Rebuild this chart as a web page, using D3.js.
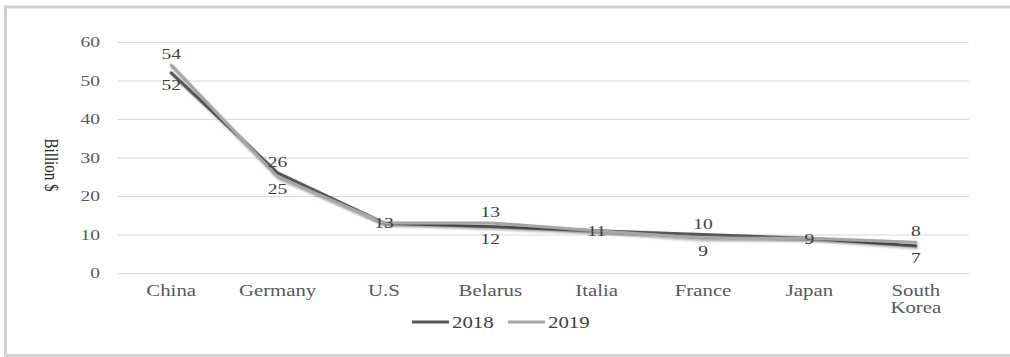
<!DOCTYPE html>
<html>
<head>
<meta charset="utf-8">
<script src="https://cdn.jsdelivr.net/npm/d3@7"></script>
<style>
  body { margin: 0; background: #fff; }
</style>
</head>
<body>
<div id="chart"></div>
<script>
const countries = ["China", "Germany", "U.S", "Belarus", "Italia", "France", "Japan", "South Korea"];
const values2018 = [52, 26, 13, 12, 11, 10, 9, 7];
const values2019 = [54, 25, 13, 13, 11, 9, 9, 8];
const yTicks = [0, 10, 20, 30, 40, 50, 60];
const seriesNames = ["2018", "2019"];

const W = 1010, H = 357;
const margin = { top: 42, right: 41, bottom: 84, left: 118 },
  width = W - margin.left - margin.right,
  height = H - margin.top - margin.bottom;
const sx = 1.3; // text in the reference is drawn wide
const font = "'Liberation Serif', 'Times New Roman', 'DejaVu Serif', serif";

const svg = d3.select("#chart").append("svg")
  .attr("width", W)
  .attr("height", H)
  .style("font-family", font);

// shadow under the lines
const defs = svg.append("defs");
defs.append("filter").attr("id", "shadow")
  .attr("x", "-5%").attr("y", "-5%").attr("width", "110%").attr("height", "120%")
  .append("feDropShadow")
  .attr("dx", 1).attr("dy", 1.5).attr("stdDeviation", 0.8)
  .attr("flood-color", "#000").attr("flood-opacity", 0.35);

// outer frame
svg.append("rect")
  .attr("x", 5.5).attr("y", 7)
  .attr("width", W + 10).attr("height", 348.5)
  .attr("fill", "none")
  .attr("stroke", "#d2d2d2")
  .attr("stroke-width", 3);

const g = svg.append("g")
  .attr("transform", `translate(${margin.left},${margin.top})`);

const x = d3.scaleBand()
  .domain(countries)
  .range([0, width])
  .padding(0);

const y = d3.scaleLinear()
  .domain([0, 60])
  .range([height, 0]);

// y axis + gridlines
const yAxis = g.append("g")
  .call(d3.axisLeft(y).tickValues(yTicks).tickSize(-width).tickPadding(18))
  .attr("font-family", font);
yAxis.select(".domain").remove();
yAxis.selectAll(".tick line")
  .attr("stroke", "#d9d9d9")
  .attr("stroke-width", 1);
yAxis.selectAll(".tick text")
  .attr("x", -18 / sx)
  .attr("transform", `scale(${sx},1)`)
  .attr("fill", "#595959")
  .style("font-family", font)
  .style("font-size", "15px");

// x axis labels
const xAxis = g.append("g")
  .attr("transform", `translate(0,${height})`)
  .call(d3.axisBottom(x).tickSize(0).tickPadding(0).tickFormat(""))
  .attr("font-family", font);
xAxis.select(".domain").remove();
xAxis.selectAll(".tick").each(function (d) {
  const t = d3.select(this).append("text")
    .attr("transform", `scale(${sx},1)`)
    .attr("text-anchor", "middle")
    .attr("fill", "#595959")
    .style("font-family", font)
    .style("font-size", "16px");
  const words = d.split(" ");
  words.forEach(function (w, i) {
    t.append("tspan")
      .attr("x", 0)
      .attr("y", 23 + i * 17)
      .text(w);
  });
});

// y axis title
svg.append("text")
  .attr("transform", `translate(45,165) scale(${sx},1) rotate(90)`)
  .attr("text-anchor", "middle")
  .attr("fill", "#262626")
  .style("font-family", font)
  .style("font-size", "15px")
  .text("Billion $");

// lines
const colors = { "2018": "#595959", "2019": "#a6a6a6" };
const series = [
  { name: "2018", values: values2018 },
  { name: "2019", values: values2019 }
];

const line = d3.line()
  .x((d, i) => x(countries[i]) + x.bandwidth() / 2)
  .y(d => y(d));

series.forEach(function (s) {
  g.append("path")
    .datum(s.values)
    .attr("fill", "none")
    .attr("stroke", colors[s.name])
    .attr("stroke-width", 3)
    .attr("stroke-linejoin", "round")
    .attr("stroke-linecap", "round")
    .attr("filter", "url(#shadow)")
    .attr("d", line);
});

// data labels: higher value above, lower below, equal on the point
series.forEach(function (s, si) {
  const other = series[1 - si].values;
  s.values.forEach(function (v, i) {
    const o = other[i];
    if (v === o && si === 1) return;
    let cy = y(v);
    if (v > o) cy -= 11;
    else if (v < o) cy += 12;
    g.append("text")
      .attr("transform", `translate(${x(countries[i]) + x.bandwidth() / 2},${cy}) scale(${sx},1)`)
      .attr("text-anchor", "middle")
      .attr("dy", "0.35em")
      .attr("fill", "#404040")
      .style("font-family", font)
      .style("font-size", "15px")
      .text(v);
  });
});

// legend
const legend = svg.append("g").attr("transform", "translate(412,322)");
seriesNames.forEach(function (name, i) {
  const item = legend.append("g").attr("transform", `translate(${i * 96},0)`);
  item.append("line")
    .attr("x1", 0).attr("x2", 37)
    .attr("y1", 0).attr("y2", 0)
    .attr("stroke", colors[name])
    .attr("stroke-width", 3);
  item.append("text")
    .attr("transform", `translate(40,0) scale(${sx},1)`)
    .attr("dy", "0.35em")
    .attr("fill", "#404040")
    .style("font-family", font)
    .style("font-size", "16px")
    .text(name);
});
</script>
</body>
</html>
